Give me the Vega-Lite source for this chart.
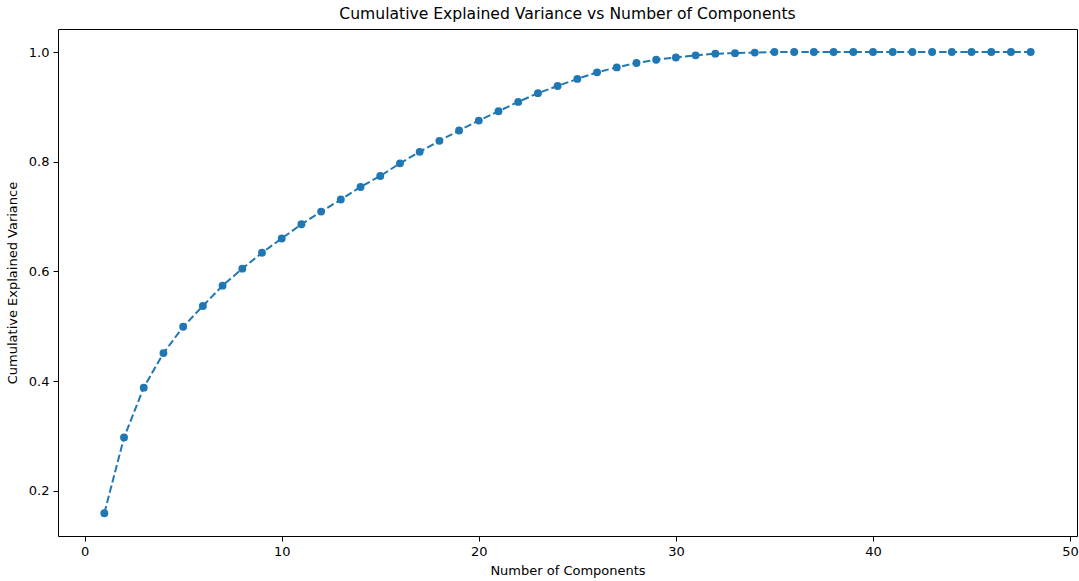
{
  "$schema": "https://vega.github.io/schema/vega-lite/v6.json",
  "width": 1019,
  "height": 507,
  "autosize": {"type": "none"},
  "padding": {"left": 58, "top": 29, "right": 2, "bottom": 45},
  "background": "white",
  "config": {
    "font": "DejaVu Sans",
    "view": {"stroke": "black", "strokeWidth": 1},
    "axis": {
      "grid": false,
      "domain": false,
      "tickColor": "black",
      "tickSize": 5,
      "labelColor": "black",
      "labelFontSize": 13,
      "labelFont": "DejaVu Sans",
      "titleFont": "DejaVu Sans",
      "titleFontSize": 13,
      "titleFontWeight": "normal",
      "titleColor": "black",
      "labelPadding": 4
    }
  },
  "title": {
    "text": "Cumulative Explained Variance vs Number of Components",
    "fontSize": 15.6,
    "fontWeight": "normal",
    "font": "DejaVu Sans",
    "color": "black",
    "offset": 6
  },
  "data": {
    "values": [
      {"n": 1, "v": 0.159}, {"n": 2, "v": 0.297}, {"n": 3, "v": 0.388}, {"n": 4, "v": 0.451},
      {"n": 5, "v": 0.499}, {"n": 6, "v": 0.537}, {"n": 7, "v": 0.574}, {"n": 8, "v": 0.605},
      {"n": 9, "v": 0.634}, {"n": 10, "v": 0.660}, {"n": 11, "v": 0.686}, {"n": 12, "v": 0.709},
      {"n": 13, "v": 0.731}, {"n": 14, "v": 0.754}, {"n": 15, "v": 0.774}, {"n": 16, "v": 0.797},
      {"n": 17, "v": 0.818}, {"n": 18, "v": 0.838}, {"n": 19, "v": 0.857}, {"n": 20, "v": 0.875},
      {"n": 21, "v": 0.892}, {"n": 22, "v": 0.909}, {"n": 23, "v": 0.925}, {"n": 24, "v": 0.938},
      {"n": 25, "v": 0.951}, {"n": 26, "v": 0.963}, {"n": 27, "v": 0.972}, {"n": 28, "v": 0.980},
      {"n": 29, "v": 0.986}, {"n": 30, "v": 0.990}, {"n": 31, "v": 0.994}, {"n": 32, "v": 0.997},
      {"n": 33, "v": 0.998}, {"n": 34, "v": 0.999}, {"n": 35, "v": 1.0}, {"n": 36, "v": 1.0},
      {"n": 37, "v": 1.0}, {"n": 38, "v": 1.0}, {"n": 39, "v": 1.0}, {"n": 40, "v": 1.0},
      {"n": 41, "v": 1.0}, {"n": 42, "v": 1.0}, {"n": 43, "v": 1.0}, {"n": 44, "v": 1.0},
      {"n": 45, "v": 1.0}, {"n": 46, "v": 1.0}, {"n": 47, "v": 1.0}, {"n": 48, "v": 1.0}
    ]
  },
  "encoding": {
    "x": {
      "field": "n", "type": "quantitative",
      "scale": {"domain": [-1.35, 50.35], "nice": false, "zero": false},
      "axis": {"values": [0, 10, 20, 30, 40, 50], "title": "Number of Components", "titlePadding": 6}
    },
    "y": {
      "field": "v", "type": "quantitative",
      "scale": {"domain": [0.1175, 1.042], "nice": false, "zero": false},
      "axis": {"values": [0.2, 0.4, 0.6, 0.8, 1.0], "format": ".1f", "title": "Cumulative Explained Variance", "titlePadding": 9}
    }
  },
  "layer": [
    {"mark": {"type": "line", "color": "#1f77b4", "strokeWidth": 2, "strokeDash": [7.4, 3.2]}},
    {"mark": {"type": "point", "filled": true, "color": "#1f77b4", "opacity": 1, "size": 62}}
  ]
}
